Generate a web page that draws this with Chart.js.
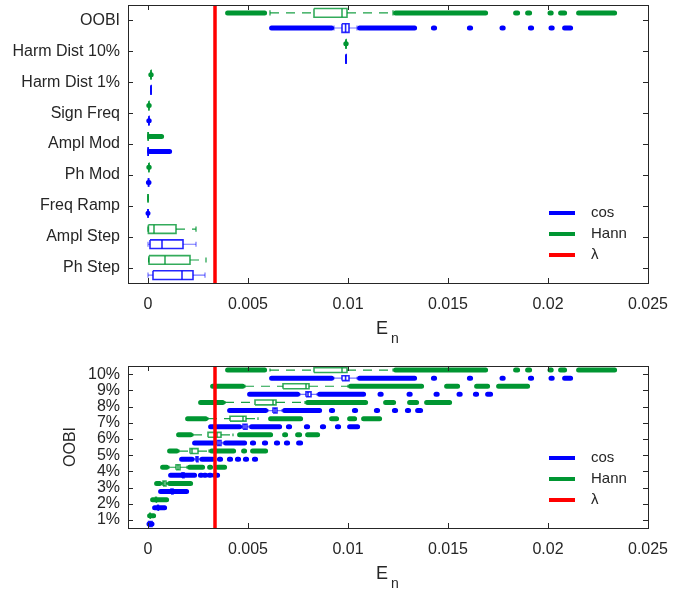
<!DOCTYPE html>
<html>
<head>
<meta charset="utf-8">
<script src="https://cdn.jsdelivr.net/npm/chart.js@4.4.1/dist/chart.umd.min.js"></script>
<style>
  html, body { margin: 0; padding: 0; background: #fff; }
  canvas { position: absolute; left: 0; }
  #topChart { top: 0; }
  #botChart { top: 345px; }
</style>
</head>
<body>
<canvas id="topChart" width="694" height="345"></canvas>
<canvas id="botChart" width="694" height="248"></canvas>
<script>
// ---- data ----
const xTicks = [0, 0.005, 0.01, 0.015, 0.02, 0.025];
const lambdaValue = 0.00335;

const tests = ['OOBI', 'Harm Dist 10%', 'Harm Dist 1%', 'Sign Freq', 'Ampl Mod', 'Ph Mod', 'Freq Ramp', 'Ampl Step', 'Ph Step'];

// box stats per row: [lower whisker, q1, median, q3, upper whisker]
const testsCosBox = [
    [0.0093, 0.0097, 0.00988, 0.01005, 0.01045],
    [0.00989, 0.00989, 0.0099, 0.00991, 0.00991],
    [0.00014, 0.00014, 0.00015, 0.00016, 0.00016],
    [0.00004, 0.00004, 0.00005, 0.00005, 0.00006],
    [0, 0, 0.00001, 0.00002, 0.00003],
    [0.00002, 0.00002, 0.00003, 0.00004, 0.00004],
    [0, 0, 0, 0.00001, 0.00001],
    [0, 0.0001, 0.0007, 0.00175, 0.0024],
    [0, 0.00025, 0.0017, 0.00225, 0.00285]
];
// outlier runs per row: [from, to]
const testsCosOut = [
    [[0.00618, 0.00918], [0.01058, 0.01333], [0.01427, 0.01433], [0.01607, 0.01613], [0.0177, 0.01776], [0.01912, 0.01918], [0.02015, 0.02021], [0.02083, 0.02113]],
    [],
    [],
    [[0.00004, 0.00006]],
    [[0.00008, 0.00108]],
    [[0.00002, 0.00005]],
    [[0, 0.00002]],
    [],
    []
];
const testsHannBox = [
    [0.0061, 0.0083, 0.0097, 0.00995, 0.01225],
    [0.00988, 0.00989, 0.0099, 0.00991, 0.00992],
    [0.00013, 0.00014, 0.00015, 0.00016, 0.00017],
    [0.00004, 0.00004, 0.00005, 0.00005, 0.00006],
    [0, 0, 0.00001, 0.00002, 0.00004],
    [0.00004, 0.00004, 0.00005, 0.00005, 0.00006],
    [0, 0, 0, 0.00001, 0.00001],
    [0, 0.00002, 0.0003, 0.0014, 0.0024],
    [0.00003, 0.00005, 0.00085, 0.0021, 0.0029]
];
const testsHannOut = [
    [[0.00398, 0.00583], [0.01238, 0.01688], [0.01838, 0.01848], [0.01898, 0.01908], [0.0201, 0.02016], [0.02063, 0.02083], [0.02153, 0.02333]],
    [[0.00989, 0.00991]],
    [[0.00014, 0.00016]],
    [[0.00004, 0.00006]],
    [[0.00008, 0.00068]],
    [[0.00004, 0.00006]],
    [],
    [],
    []
];

const oobiLevels = ['1%', '2%', '3%', '4%', '5%', '6%', '7%', '8%', '9%', '10%'];

const oobiCosBox = [
    [0.00002, 0.00003, 0.0001, 0.0002, 0.00022],
    [0.00045, 0.00048, 0.0005, 0.00052, 0.00055],
    [0.0011, 0.00115, 0.0012, 0.00125, 0.0013],
    [0.0016, 0.0017, 0.00175, 0.0018, 0.0019],
    [0.0023, 0.0024, 0.00245, 0.0025, 0.0026],
    [0.0034, 0.00345, 0.00355, 0.00365, 0.00375],
    [0.0047, 0.00475, 0.00485, 0.00495, 0.00505],
    [0.006, 0.00625, 0.00635, 0.00645, 0.0067],
    [0.0076, 0.0079, 0.008, 0.00815, 0.00845],
    [0.0093, 0.0097, 0.00988, 0.01005, 0.01045]
];
const oobiCosOut = [
    [[0.00005, 0.0002]],
    [[0.00033, 0.00083]],
    [[0.00063, 0.00193]],
    [[0.00113, 0.00233], [0.00262, 0.00268], [0.00282, 0.00288], [0.00307, 0.00313], [0.00332, 0.00348]],
    [[0.00168, 0.0022], [0.0027, 0.00323], [0.00357, 0.00363], [0.00407, 0.00413], [0.00447, 0.00453], [0.00487, 0.00493], [0.00532, 0.00538]],
    [[0.00233, 0.00333], [0.00388, 0.00483], [0.00522, 0.00528], [0.00582, 0.00588], [0.00642, 0.00648], [0.00692, 0.00698], [0.00753, 0.00763]],
    [[0.00313, 0.00458], [0.00518, 0.00658], [0.00702, 0.00708], [0.00792, 0.00798], [0.00872, 0.00878], [0.00947, 0.00953], [0.01008, 0.01048]],
    [[0.00408, 0.00588], [0.00683, 0.00858], [0.00917, 0.00923], [0.01032, 0.01038], [0.01142, 0.01148], [0.01232, 0.01238], [0.01297, 0.01303], [0.01348, 0.01363]],
    [[0.00508, 0.00748], [0.00858, 0.01078], [0.0116, 0.01166], [0.01305, 0.01311], [0.0144, 0.01446], [0.01555, 0.01561], [0.01637, 0.01643], [0.01698, 0.01713]],
    [[0.00618, 0.00918], [0.01058, 0.01333], [0.01427, 0.01433], [0.01607, 0.01613], [0.0177, 0.01776], [0.01912, 0.01918], [0.02015, 0.02021], [0.02083, 0.02113]]
];
const oobiHannBox = [
    [0.00008, 0.00009, 0.0001, 0.00011, 0.00012],
    [0.00035, 0.00038, 0.0004, 0.00042, 0.00045],
    [0.0007, 0.00075, 0.0008, 0.0009, 0.00095],
    [0.00105, 0.0014, 0.0015, 0.0016, 0.00195],
    [0.00155, 0.0021, 0.0022, 0.0025, 0.00305],
    [0.00225, 0.003, 0.00345, 0.00365, 0.00425],
    [0.003, 0.0041, 0.00475, 0.0049, 0.0055],
    [0.00385, 0.00535, 0.00625, 0.0064, 0.00785],
    [0.00485, 0.00675, 0.0079, 0.00805, 0.01],
    [0.0061, 0.0083, 0.0097, 0.00995, 0.01225]
];
const oobiHannOut = [
    [[0.00008, 0.00028]],
    [[0.00023, 0.00093]],
    [[0.00043, 0.00058], [0.00108, 0.00213]],
    [[0.00073, 0.00093], [0.00208, 0.00273], [0.00308, 0.00313], [0.00348, 0.00383]],
    [[0.00108, 0.00143], [0.00318, 0.00428], [0.00478, 0.00483], [0.00523, 0.00588]],
    [[0.00153, 0.00213], [0.00458, 0.00613], [0.00683, 0.00688], [0.00748, 0.00758], [0.00798, 0.00848]],
    [[0.00198, 0.00288], [0.00613, 0.00763], [0.00918, 0.00943], [0.01008, 0.01033], [0.01078, 0.01158]],
    [[0.00263, 0.00373], [0.00798, 0.01088], [0.01188, 0.01228], [0.01308, 0.01343], [0.01393, 0.01508]],
    [[0.00323, 0.00473], [0.01013, 0.01368], [0.01493, 0.01548], [0.01643, 0.01698], [0.01753, 0.01898]],
    [[0.00398, 0.00583], [0.01238, 0.01688], [0.01838, 0.01848], [0.01898, 0.01908], [0.0201, 0.02016], [0.02063, 0.02083], [0.02153, 0.02333]]
];

// ---- styles ----
const COS = 'rgb(0,0,255)';
const HANN = 'rgb(0,150,50)';
const RED = 'rgb(255,0,0)';
const INK = '#262626';
const FONT = 'Liberation Sans, Arial, sans-serif';

Chart.defaults.font.family = FONT;
Chart.defaults.color = INK;

const cosStyle = { color: COS, boxColor: 'rgba(0,0,255,0.85)', whiskerColor: 'rgba(0,0,255,0.55)', dash: [] };
const hannStyle = { color: HANN, boxColor: 'rgba(0,150,50,0.8)', whiskerColor: 'rgba(0,150,50,0.9)', dash: [9, 7] };

function lineSet(data, color, width, order, extra) {
    return Object.assign({
        data, borderColor: color, borderWidth: width, showLine: true,
        pointRadius: 0, pointHoverRadius: 0, spanGaps: false, order
    }, extra || {});
}

// box plot made of plain line datasets, positioned through the chart scales
function boxDatasets(boxes, outliers, yOf, half, st) {
    const gap = { x: null, y: null };
    const runs = [], whisk = [], caps = [], rects = [], meds = [];
    const capH = half * 0.6;
    boxes.forEach((b, i) => {
        const y = yOf(i);
        const [lo, q1, md, q3, hi] = b;
        rects.push({ x: q1, y: y - half }, { x: q3, y: y - half }, { x: q3, y: y + half }, { x: q1, y: y + half }, { x: q1, y: y - half }, gap);
        meds.push({ x: md, y: y - half }, { x: md, y: y + half }, gap);
        whisk.push({ x: lo, y }, { x: q1, y }, gap, { x: q3, y }, { x: hi, y }, gap);
        caps.push({ x: lo, y: y - capH }, { x: lo, y: y + capH }, gap, { x: hi, y: y - capH }, { x: hi, y: y + capH }, gap);
        outliers[i].forEach(r => runs.push({ x: r[0], y }, { x: r[1], y }, gap));
    });
    return [
        lineSet(runs, st.color, 5, 5, { borderCapStyle: 'round' }),
        lineSet(whisk, st.whiskerColor, 1.2, 4, { borderDash: st.dash }),
        lineSet(caps, st.whiskerColor, 1.2, 3),
        lineSet(rects, st.boxColor, 1.6, 2, { borderJoinStyle: 'miter' }),
        lineSet(meds, st.boxColor, 1.6, 1)
    ];
}

const frameTicks = {
    id: 'frameTicks',
    afterDraw(chart) {
        const { ctx, chartArea: a, scales: { x, y } } = chart;
        ctx.save();
        ctx.strokeStyle = INK;
        ctx.lineWidth = 1;
        ctx.strokeRect(Math.round(a.left) + 0.5, Math.round(a.top) + 0.5, Math.round(a.right - a.left), Math.round(a.bottom - a.top));
        ctx.beginPath();
        x.ticks.forEach(t => {
            const px = Math.round(x.getPixelForValue(t.value)) + 0.5;
            ctx.moveTo(px, a.bottom); ctx.lineTo(px, a.bottom - 5);
            ctx.moveTo(px, a.top); ctx.lineTo(px, a.top + 5);
        });
        y.ticks.forEach(t => {
            const py = Math.round(y.getPixelForValue(t.value)) + 0.5;
            ctx.moveTo(a.left, py); ctx.lineTo(a.left + 5, py);
            ctx.moveTo(a.right, py); ctx.lineTo(a.right - 5, py);
        });
        ctx.stroke();

        // legend
        const items = [['cos', COS], ['Hann', HANN], ['\u03bb', RED]];
        ctx.font = '15px ' + FONT;
        ctx.textBaseline = 'middle';
        items.forEach((it, k) => {
            const ly = a.bottom - 28 - (2 - k) * 21;
            ctx.strokeStyle = it[1];
            ctx.lineWidth = 4;
            ctx.beginPath();
            ctx.moveTo(a.right - 99, ly); ctx.lineTo(a.right - 73, ly);
            ctx.stroke();
            ctx.fillStyle = INK;
            ctx.fillText(it[0], a.right - 57, ly);
        });

        // x axis title E_n
        const cx = (a.left + a.right) / 2;
        ctx.fillStyle = INK;
        ctx.textBaseline = 'alphabetic';
        ctx.font = '18px ' + FONT;
        ctx.textAlign = 'right';
        ctx.fillText('E', cx, a.bottom + 51);
        ctx.font = '14px ' + FONT;
        ctx.textAlign = 'left';
        ctx.fillText('n', cx + 3, a.bottom + 60);
        ctx.restore();
    }
};

function xScale(axisHeight) {
    return {
        type: 'linear', min: -0.001, max: 0.025,
        grid: { display: false, drawTicks: false }, border: { display: false },
        afterBuildTicks: s => { s.ticks = xTicks.map(v => ({ value: v })); },
        afterFit: s => { s.height = axisHeight; s.paddingLeft = 0; s.paddingRight = 0; },
        ticks: { font: { size: 16 }, padding: 12, maxRotation: 0, autoSkip: false, callback: v => String(v) }
    };
}

// ---- top chart ----
const topHalf = 0.14;
new Chart(document.getElementById('topChart'), {
    type: 'scatter',
    data: {
        datasets: [
            lineSet([{ x: lambdaValue, y: 0.5 }, { x: lambdaValue, y: 9.5 }], RED, 3.5, 0),
            ...boxDatasets(testsHannBox, testsHannOut, i => i + 1 - 0.245, topHalf, hannStyle),
            ...boxDatasets(testsCosBox, testsCosOut, i => i + 1 + 0.245, topHalf, cosStyle)
        ]
    },
    options: {
        responsive: false, animation: false, events: [],
        layout: { padding: { top: 5, right: 46, left: 0, bottom: 0 } },
        plugins: { legend: { display: false }, tooltip: { enabled: false } },
        scales: {
            x: xScale(62),
            y: {
                type: 'linear', min: 0.5, max: 9.5, reverse: true,
                grid: { display: false, drawTicks: false }, border: { display: false },
                afterBuildTicks: s => { s.ticks = tests.map((t, i) => ({ value: i + 1 })); },
                afterFit: s => { s.width = 128; s.paddingTop = 0; s.paddingBottom = 0; },
                ticks: { font: { size: 16 }, padding: 8, autoSkip: false, callback: (v, i) => tests[i] }
            }
        }
    },
    plugins: [frameTicks]
});

// ---- bottom chart ----
const botHalf = 0.15;
new Chart(document.getElementById('botChart'), {
    type: 'scatter',
    data: {
        datasets: [
            lineSet([{ x: lambdaValue, y: 0.5 }, { x: lambdaValue, y: 10.5 }], RED, 3.5, 0),
            ...boxDatasets(oobiHannBox, oobiHannOut, i => i + 1 + 0.25, botHalf, hannStyle),
            ...boxDatasets(oobiCosBox, oobiCosOut, i => i + 1 - 0.25, botHalf, cosStyle)
        ]
    },
    options: {
        responsive: false, animation: false, events: [],
        layout: { padding: { top: 21, right: 46, left: 57, bottom: 0 } },
        plugins: { legend: { display: false }, tooltip: { enabled: false } },
        scales: {
            x: xScale(65),
            y: {
                type: 'linear', min: 0.5, max: 10.5,
                grid: { display: false, drawTicks: false }, border: { display: false },
                afterBuildTicks: s => { s.ticks = oobiLevels.map((l, i) => ({ value: i + 1 })); },
                afterFit: s => { s.width = 71; s.paddingTop = 0; s.paddingBottom = 0; },
                title: { display: true, text: 'OOBI', font: { size: 16 }, padding: { top: 4, bottom: 0 } },
                ticks: { font: { size: 16 }, padding: 8, autoSkip: false, callback: (v, i) => oobiLevels[i] }
            }
        }
    },
    plugins: [frameTicks]
});
</script>
</body>
</html>
